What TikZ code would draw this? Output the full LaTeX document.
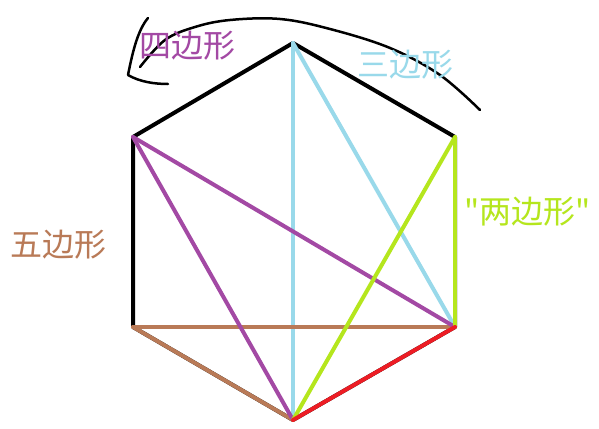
\documentclass[tikz,border=0pt]{standalone}
\usepackage{fontspec}
\newfontfamily\cjk{Noto Sans CJK SC}
\definecolor{ppurple}{HTML}{A349A4}
\definecolor{pblue}{HTML}{99D9EA}
\definecolor{pgreen}{HTML}{B5E61D}
\definecolor{pbrown}{HTML}{B97A57}
\definecolor{pred}{HTML}{ED1C24}
\begin{document}
\begin{tikzpicture}[x=1pt,y=-1pt,
  edge/.style={line width=4pt,line cap=round,line join=round},
  lab/.style={font=\cjk\fontsize{32}{32}\selectfont,inner sep=0pt,anchor=west}]
\useasboundingbox[fill=white] (0,0) rectangle (599,428);
\coordinate (T) at (293,43);
\coordinate (UR) at (455,137);
\coordinate (LR) at (455,327);
\coordinate (B) at (293,420);
\coordinate (LL) at (133,327);
\coordinate (UL) at (133,137);
% hexagon
\draw[edge,black] (T) -- (UR) -- (LR) -- (B) -- (LL) -- (UL) -- cycle;
% diagonals
\draw[edge,pblue] (T) -- (B);
\draw[edge,pblue] (T) -- (LR);
\draw[edge,pbrown] (LL) -- (LR);
\draw[edge,pbrown] (LL) -- (B);
\draw[edge,ppurple] (UL) -- (LR);
\draw[edge,ppurple] (UL) -- (B);
\draw[edge,pgreen] (UR) -- (B);
\draw[edge,pgreen] (UR) -- (LR);
\draw[edge,pred] (B) -- (LR);
% arc with hand-drawn head
\coordinate (a0) at (480,110);
\coordinate (a1) at (140,67);
\draw[line width=2.5pt,line cap=round] plot[smooth,tension=0.6] coordinates {(a0) (440,75) (390,48) (330,29) (280,19) (230,20) (195,27) (165,40) (a1)};
\coordinate (h0) at (148,18);
\coordinate (h1) at (128,75);
\coordinate (h2) at (168,84);
\draw[line width=2.5pt,line cap=round,line join=round] (h0) .. controls (138,30) and (133,50) .. (h1) .. controls (140,82) and (155,84) .. (h2);
% labels
\node[lab,text=ppurple] (four) at (139,46) {四边形};
\node[lab,text=pblue] (three) at (357,65) {三边形};
\node[lab,text=pbrown] (five) at (10,245) {五边形};
\node[lab,text=pgreen] (two) at (464,212) {"两边形"};
\end{tikzpicture}
\end{document}
